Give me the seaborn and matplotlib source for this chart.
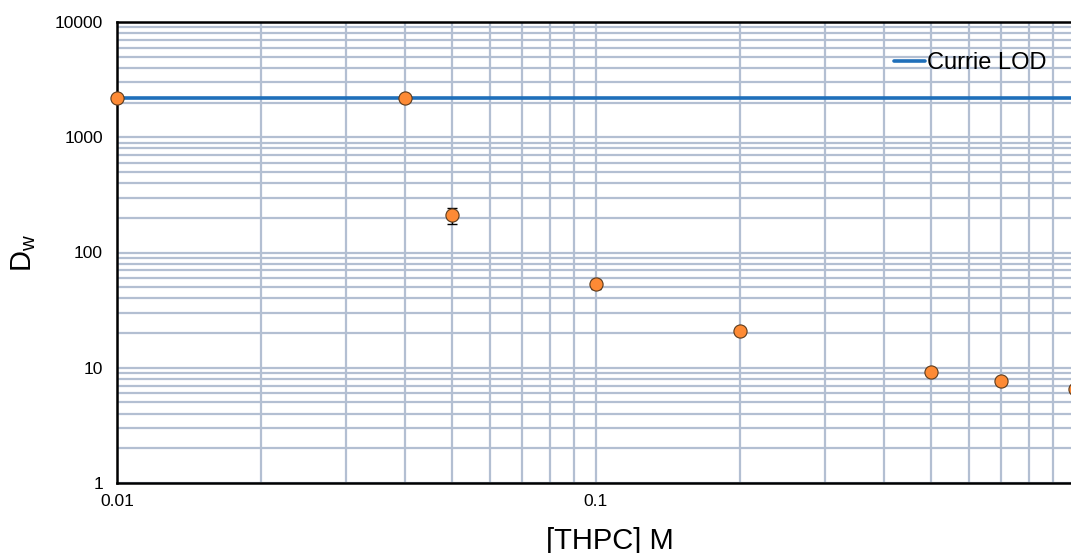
import numpy as np
import pandas as pd
import matplotlib
matplotlib.use("Agg")
import matplotlib.pyplot as plt
import matplotlib.ticker as mticker
import seaborn as sns

# ---------------------------------------------------------------------------
# Data
# ---------------------------------------------------------------------------
thpc_conc = [0.01, 0.04, 0.05, 0.1, 0.2, 0.5, 0.7, 1.0]
dw_values = [2200, 2200, 211, 53, 20.8, 9.2, 7.7, 6.5]
dw_errors = [0, 0, 33, 5, 1.2, 0.3, 0.3, 0.3]
currie_lod = 2200

x_ticks = [0.01, 0.1]
x_tick_labels = ["0.01", "0.1"]
y_ticks = [1, 10, 100, 1000, 10000]
y_tick_labels = ["1", "10", "100", "1000", "10000"]

GRID_COLOR = "#b3bfd2"
LOD_COLOR = "#1f6fba"
POINT_COLOR = "#fd8a35"
EDGE_COLOR = "#5b3a1c"

sns.set_style("white")
plt.rcParams["font.family"] = ["Liberation Sans", "DejaVu Sans"]
plt.rcParams["mathtext.fontset"] = "custom"
plt.rcParams["mathtext.rm"] = "Liberation Sans"
plt.rcParams["mathtext.it"] = "Liberation Sans:italic"
plt.rcParams["text.color"] = "black"
plt.rcParams["axes.labelcolor"] = "black"

df = pd.DataFrame({"conc": thpc_conc, "dw": dw_values, "err": dw_errors})

W, H = 1071, 553
fig = plt.figure(figsize=(W / 100, H / 100), dpi=100)
# plot area runs a little past the right edge of the picture, like the source
ax = fig.add_axes([117 / W, (H - 483) / H, (1075 - 117) / W, 461 / H])

ax.set_xscale("log")
ax.set_yscale("log")
ax.set_xlim(0.01, 1)
ax.set_ylim(1, 10000)

# grid
ax.grid(which="both", color=GRID_COLOR, linewidth=1.6, zorder=0)
ax.set_axisbelow(True)

# Currie LOD line
ax.axhline(currie_lod, color=LOD_COLOR, linewidth=2.6, label="Currie LOD", zorder=2)

# error bars + points
ax.errorbar(df["conc"], df["dw"], yerr=df["err"], fmt="none", ecolor="black",
            elinewidth=1, capsize=3.5, capthick=1, zorder=3)
sns.scatterplot(data=df, x="conc", y="dw", ax=ax, s=90, color=POINT_COLOR,
                edgecolor=EDGE_COLOR, linewidth=0.8, zorder=4, clip_on=False,
                legend=False)

# ticks
ax.xaxis.set_major_locator(mticker.FixedLocator(x_ticks))
ax.xaxis.set_major_formatter(mticker.FixedFormatter(x_tick_labels))
ax.xaxis.set_minor_locator(mticker.LogLocator(base=10, subs=np.arange(2, 10)))
ax.xaxis.set_minor_formatter(mticker.NullFormatter())
ax.yaxis.set_major_locator(mticker.FixedLocator(y_ticks))
ax.yaxis.set_major_formatter(mticker.FixedFormatter(y_tick_labels))
ax.yaxis.set_minor_locator(mticker.LogLocator(base=10, subs=np.arange(2, 10), numticks=20))
ax.yaxis.set_minor_formatter(mticker.NullFormatter())
ax.tick_params(which="both", direction="in", colors="black", labelsize=12.5)
ax.tick_params(which="major", length=4, width=1)
ax.tick_params(which="minor", length=3, width=1)
ax.tick_params(axis="y", which="major", pad=10)
ax.tick_params(axis="x", which="major", pad=8)

for side in ["left", "bottom", "top", "right"]:
    ax.spines[side].set_color("black")
    ax.spines[side].set_linewidth(1.8)

ax.set_xlabel("[THPC] M", fontsize=21)
ax.set_ylabel("D$_\\mathrm{w}$", fontsize=21)
ax.xaxis.set_label_coords(0.515, -0.095)
ax.yaxis.set_label_coords(-0.082, 0.5)

leg = ax.legend(loc="upper right", bbox_to_anchor=(0.98, 0.955), frameon=False,
                fontsize=17, handlelength=1.3, handletextpad=0.1, borderaxespad=0)

fig.savefig("out.png", dpi=100)
